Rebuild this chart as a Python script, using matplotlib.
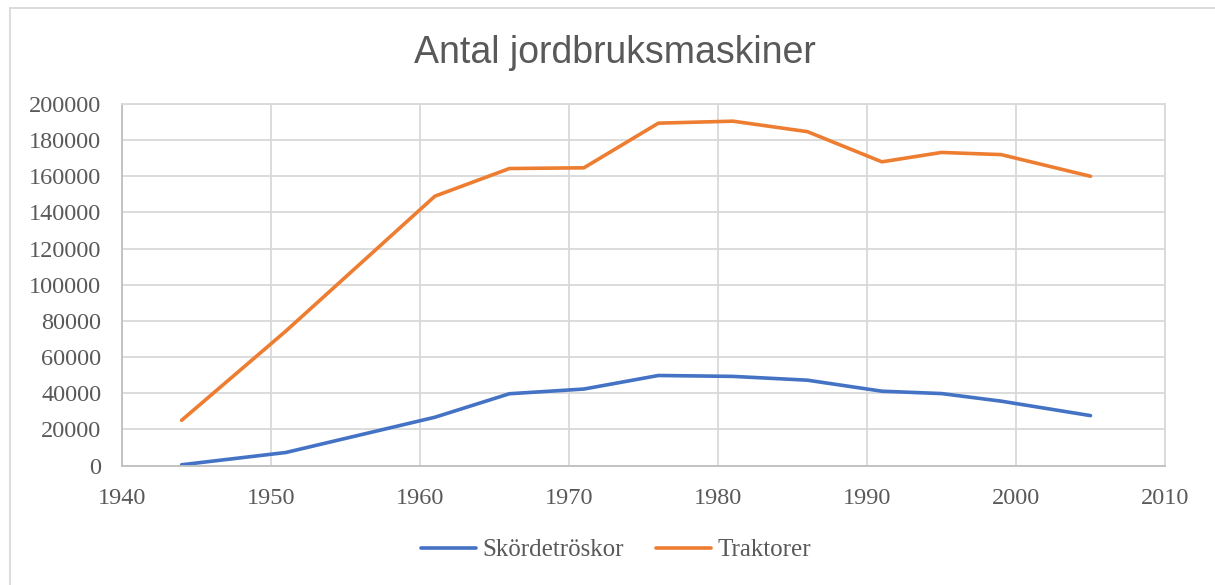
import matplotlib
matplotlib.use("Agg")
import matplotlib.pyplot as plt
from matplotlib.lines import Line2D

# ---------------------------
# Data
# ---------------------------

years = [1944, 1951, 1961, 1966, 1971, 1976, 1981, 1986, 1991, 1995, 1999, 2005]

skordetroskor = [400, 7200, 26700, 39700, 42300, 49800, 49300, 47200,
                 41100, 39800, 35600, 27600]

traktorer = [25000, 74400, 149000, 164300, 164700, 189400, 190500, 184700,
             168000, 173200, 172000, 160000]

BLUE = "#4472C4"
ORANGE = "#ED7D31"
GRID = "#D9D9D9"
TEXT = "#595959"

serif = ["Liberation Serif", "DejaVu Serif"]

# ---------------------------
# Figure
# ---------------------------

fig = plt.figure(figsize=(12.15, 5.85), dpi=100)
ax = fig.add_axes([122 / 1215, 1 - 465.5 / 585, (1165 - 122) / 1215, (465.5 - 104) / 585])

ax.plot(years, skordetroskor, color=BLUE, lw=2.6, label="Skördetröskor",
        solid_capstyle="round", solid_joinstyle="round")
ax.plot(years, traktorer, color=ORANGE, lw=2.6, label="Traktorer",
        solid_capstyle="round", solid_joinstyle="round")

ax.set_xlim(1940, 2010)
ax.set_ylim(0, 200000)
ax.set_xticks(range(1940, 2011, 10))
ax.set_yticks(range(0, 200001, 20000))

ax.grid(True, color=GRID, lw=1.3)
ax.set_axisbelow(True)
for side in ["top", "right"]:
    ax.spines[side].set_color(GRID)
    ax.spines[side].set_linewidth(1.3)
for side in ["left", "bottom"]:
    ax.spines[side].set_color("#BFBFBF")
    ax.spines[side].set_linewidth(1.3)

ax.tick_params(length=0, colors=TEXT, labelsize=17.5)
ax.tick_params(axis="y", pad=15)
ax.tick_params(axis="x", pad=16)
for lab in ax.get_xticklabels() + ax.get_yticklabels():
    lab.set_family(serif)

fig.text(0.506, 1 - 53 / 585, "Antal jordbruksmaskiner", ha="center", va="center",
         fontsize=27, color=TEXT, family=["Liberation Sans", "DejaVu Sans"])

fig.legend(loc="center", bbox_to_anchor=(0.507, 1 - 550 / 585), ncol=2, frameon=False,
           prop={"family": serif, "size": 18}, labelcolor=TEXT,
           handlelength=2.2, handletextpad=0.25, columnspacing=1.3)

# outer chart border (only left/top visible in the crop)
fig.add_artist(Line2D([10 / 1215, 10 / 1215], [0, 1 - 8 / 585], transform=fig.transFigure,
                      color=GRID, lw=1.3))
fig.add_artist(Line2D([10 / 1215, 1], [1 - 8 / 585, 1 - 8 / 585], transform=fig.transFigure,
                      color=GRID, lw=1.3))

fig.savefig("out.png", dpi=100, facecolor="white")
